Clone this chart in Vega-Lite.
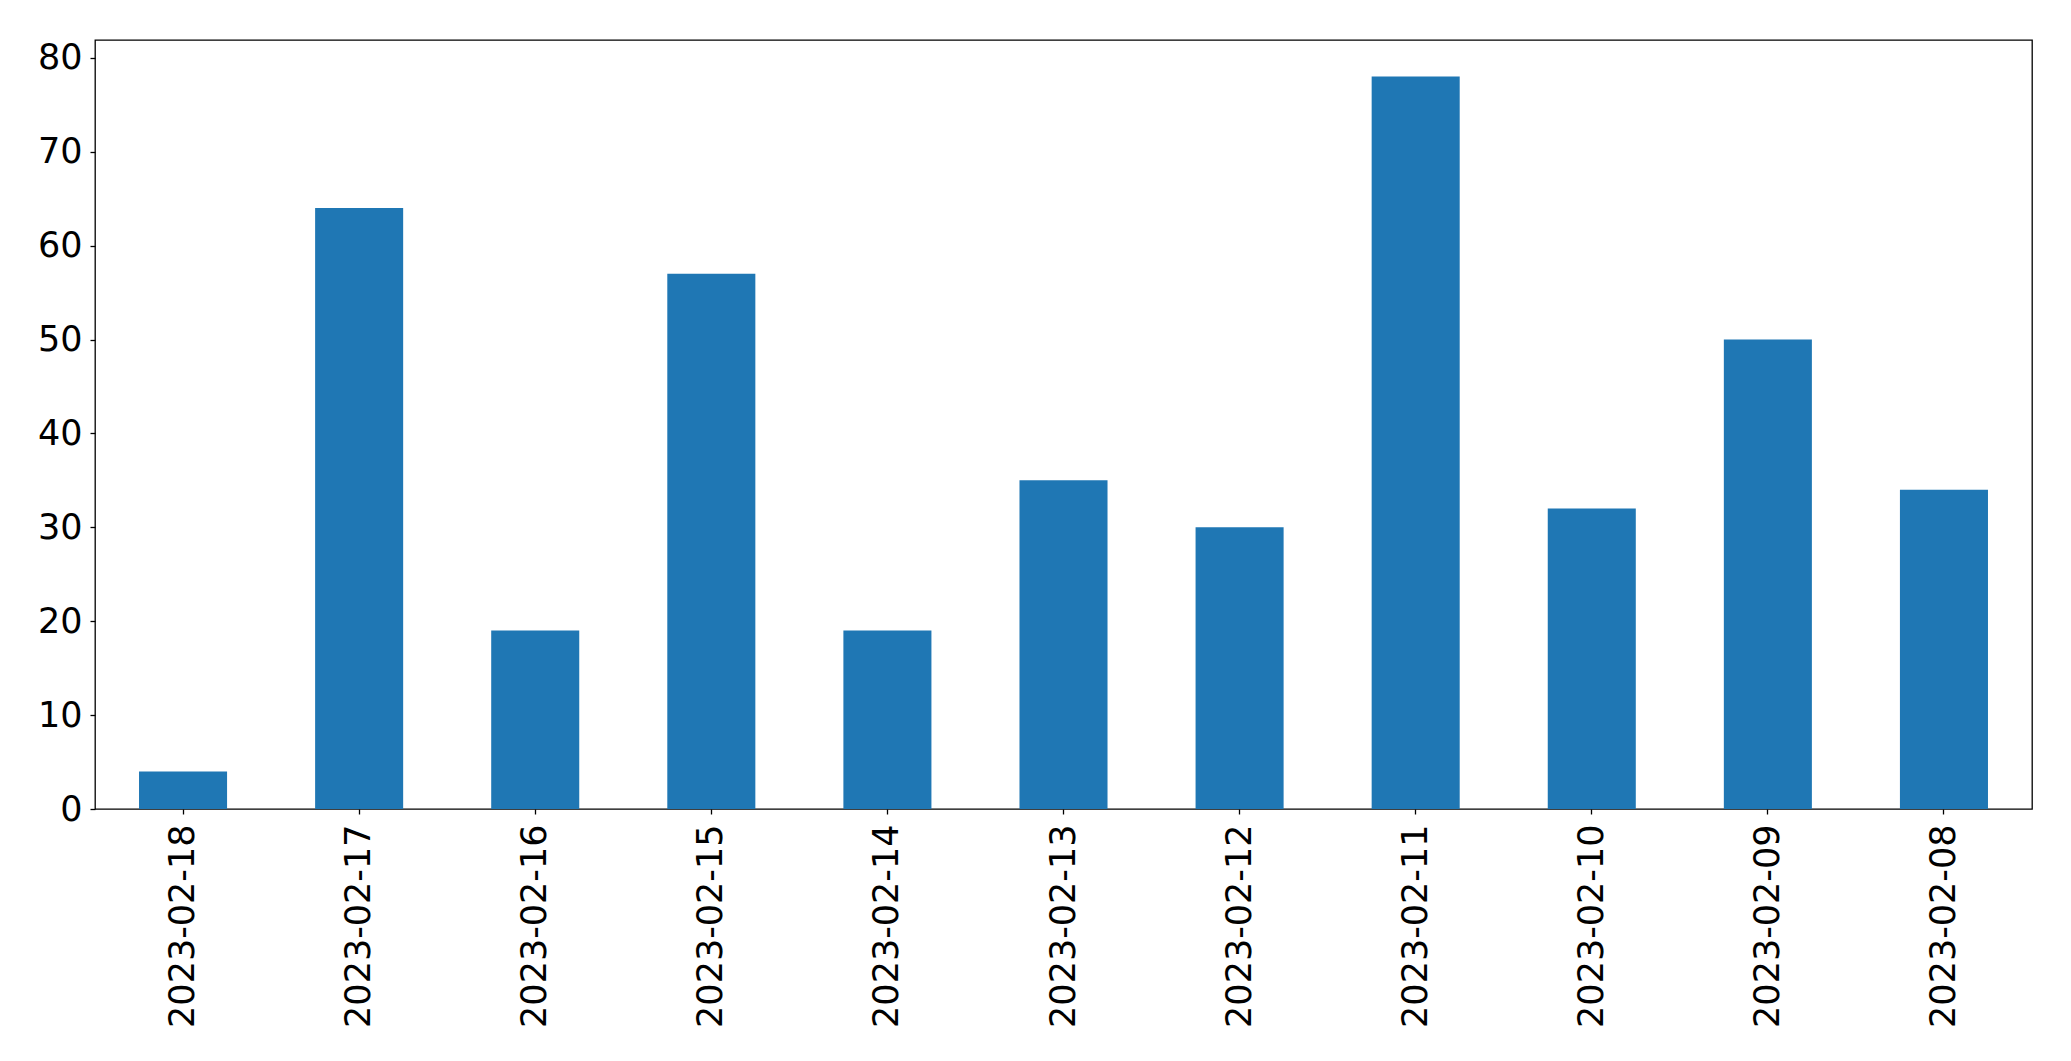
{
  "$schema": "https://vega.github.io/schema/vega-lite/v6.json",
  "autosize": {"type": "none"},
  "padding": {"left": 95, "top": 40, "right": 39, "bottom": 252},
  "width": 1937,
  "height": 769,
  "background": "white",
  "config": {
    "view": {"stroke": "black", "strokeWidth": 1.3},
    "font": "DejaVu Sans"
  },
  "data": {
    "values": [
      {"date": "2023-02-18", "count": 4},
      {"date": "2023-02-17", "count": 64},
      {"date": "2023-02-16", "count": 19},
      {"date": "2023-02-15", "count": 57},
      {"date": "2023-02-14", "count": 19},
      {"date": "2023-02-13", "count": 35},
      {"date": "2023-02-12", "count": 30},
      {"date": "2023-02-11", "count": 78},
      {"date": "2023-02-10", "count": 32},
      {"date": "2023-02-09", "count": 50},
      {"date": "2023-02-08", "count": 34}
    ]
  },
  "mark": {"type": "bar", "color": "#1f77b4"},
  "encoding": {
    "x": {
      "field": "date",
      "type": "nominal",
      "sort": null,
      "title": null,
      "scale": {"paddingInner": 0.5, "paddingOuter": 0.25},
      "axis": {
        "labelAngle": -90,
        "labelFont": "DejaVu Sans",
        "labelFontSize": 35,
        "labelLimit": 0,
        "labelColor": "black",
        "labelPadding": 10,
        "tickSize": 5,
        "tickColor": "black",
        "tickWidth": 1.3,
        "domain": false,
        "grid": false
      }
    },
    "y": {
      "field": "count",
      "type": "quantitative",
      "title": null,
      "scale": {"domain": [0, 81.9], "nice": false, "zero": true},
      "axis": {
        "values": [0, 10, 20, 30, 40, 50, 60, 70, 80],
        "labelFont": "DejaVu Sans",
        "labelFontSize": 35,
        "labelColor": "black",
        "labelPadding": 8,
        "tickSize": 5,
        "tickColor": "black",
        "tickWidth": 1.3,
        "domain": false,
        "grid": false
      }
    }
  }
}
